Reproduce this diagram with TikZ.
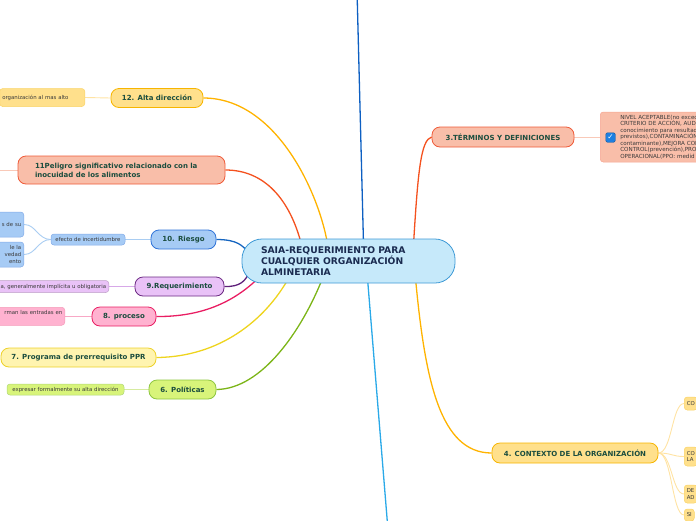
\documentclass[tikz,border=0pt]{standalone}
\usepackage{fontspec}
\setmainfont{DejaVu Sans}
\usetikzlibrary{backgrounds}
\definecolor{inkgreen}{HTML}{1B4D3E}
\definecolor{inknavy}{HTML}{1A2B50}
\definecolor{leafink}{HTML}{3A3A3A}
\definecolor{saiafill}{HTML}{C6E9FA}
\definecolor{saiadraw}{HTML}{3E9AD6}
\definecolor{orfill}{HTML}{FFE08C}
\definecolor{ordraw}{HTML}{F7B500}
\definecolor{orline}{HTML}{FFB300}
\definecolor{orlight}{HTML}{FFE3A3}
\definecolor{safill}{HTML}{F9BEA9}
\definecolor{sadraw}{HTML}{EF5B39}
\definecolor{saline}{HTML}{F4511E}
\definecolor{salight}{HTML}{F9C9B8}
\definecolor{blfill}{HTML}{A6CBF5}
\definecolor{bldraw}{HTML}{2F73D8}
\definecolor{blline}{HTML}{1565C0}
\definecolor{bllight}{HTML}{A9CDF2}
\definecolor{puffill}{HTML}{E9C2F7}
\definecolor{pudraw}{HTML}{6C2A83}
\definecolor{puline}{HTML}{5E1F7A}
\definecolor{pulight}{HTML}{D7A8E8}
\definecolor{pifill}{HTML}{FFB2D0}
\definecolor{pidraw}{HTML}{E91E63}
\definecolor{pilight}{HTML}{F8A8C6}
\definecolor{yefill}{HTML}{FFF4B0}
\definecolor{yedraw}{HTML}{EDD12A}
\definecolor{yeline}{HTML}{EED41E}
\definecolor{grfill}{HTML}{D8F47A}
\definecolor{grdraw}{HTML}{8DC63F}
\definecolor{grline}{HTML}{7CB518}
\definecolor{grlight}{HTML}{D6EBA0}
\definecolor{topline}{HTML}{0D5FC2}
\definecolor{botline}{HTML}{2AA9E8}
\definecolor{chkblue}{HTML}{1E7FE0}

\begin{document}
\begin{tikzpicture}[x=1pt, y=-1pt,
      topic/.style = {draw, rounded corners=8pt, line width=0.8pt,
                      font=\bfseries\fontsize{7}{8.8}\selectfont,
                      text=inkgreen, minimum height=19pt, inner xsep=5pt},
      leaf/.style  = {draw, rounded corners=3pt, line width=0.5pt,
                      font=\fontsize{5.4}{6.8}\selectfont, text=leafink,
                      inner sep=2.5pt},
      branch/.style = {line width=1.3pt},
      twig/.style   = {line width=0.9pt}
    ]
    \useasboundingbox (0,0) rectangle (696,520);

    % central topic
    \node[draw=saiadraw, fill=saiafill, line width=0.8pt, rounded corners=20pt,
          minimum width=213pt, minimum height=44pt, text width=175pt, align=left,
          font=\bfseries\fontsize{9.2}{11}\selectfont, text=inknavy]
          (saia) at (348.5,261) {SAIA-REQUERIMIENTO PARA\\CUALQUIER ORGANIZACIÓN\\ALMINETARIA};

    % main topics
    \node[topic, fill=orfill, draw=ordraw, minimum width=92pt]   (alta)   at (157,98)    {12. Alta dirección};
    \node[topic, fill=safill, draw=sadraw, minimum width=207pt, minimum height=28pt,
          text width=173pt, align=left]                            (peligro) at (121.5,170) {11Peligro significativo relacionado con la\\inocuidad de los alimentos};
    \node[topic, fill=blfill, draw=bldraw, minimum width=65pt]   (riesgo) at (183.5,239.5) {10. Riesgo};
    \node[topic, fill=puffill, draw=pudraw, minimum width=89pt]  (req)    at (179.5,286.5) {9.Requerimiento};
    \node[topic, fill=pifill, draw=pidraw, minimum width=64pt]   (proc)   at (124,316.5)  {8. proceso};
    \node[topic, fill=yefill, draw=yedraw, minimum width=155pt]  (ppr)    at (78.5,357.5) {7. Programa de prerrequisito PPR};
    \node[topic, fill=grfill, draw=grdraw, minimum width=67pt]   (pol)    at (182.5,389.5) {6. Políticas};
    \node[topic, fill=safill, draw=sadraw, minimum width=142pt, minimum height=20pt] (term) at (503,137) {3.TÉRMINOS Y DEFINICIONES};
    \node[topic, fill=orfill, draw=ordraw, minimum width=166pt, minimum height=20pt] (ctx)  at (575,453) {4. CONTEXTO DE LA ORGANIZACIÓN};

    % leaves
    \node[leaf, fill=orfill, draw=ordraw!60, anchor=east, text width=80pt, align=left,
          minimum height=18pt]                                   (altaleaf) at (85,97.5) {organización al mas alto};
    \node[leaf, fill=blfill, draw=bldraw!60, minimum width=74pt, minimum height=11pt] (efecto) at (88,239.5) {efecto de incertidumbre};
    \node[leaf, fill=blfill, draw=bldraw!60, anchor=east, text width=30pt, align=right,
          minimum height=25pt]                                   (efectoa) at (24,224.5) {s de su};
    \node[leaf, fill=blfill, draw=bldraw!60, anchor=east, text width=30pt, align=right,
          minimum height=25pt]                                   (efectob) at (24,254.5) {le la\\vedad\\ento};
    \node[leaf, fill=puffill, draw=pudraw!45, anchor=east, text width=120pt, align=right,
          minimum height=12pt]                                   (reqleaf) at (109,286.5) {a, generalmente implícita u obligatoria};
    \node[leaf, fill=pifill, draw=pidraw!45, anchor=north east, text width=70pt, align=right,
          inner ysep=3pt, text height=4pt, text depth=8pt]       (procleaf) at (65,307) {rman las entradas en};
    \node[leaf, fill=grfill, draw=grdraw!70, minimum width=117pt, minimum height=11pt] (polleaf) at (65.5,389.5) {expresar formalmente su alta dirección};
    \node[leaf, fill=safill, draw=sadraw!55, anchor=west, text width=120pt, align=left,
          inner xsep=20pt, minimum height=50pt,
          font=\fontsize{5.6}{6.5}\selectfont]                   (termleaf) at (600,137)
          {NIVEL ACEPTABLE(no exced\\CRITERIO DE ACCIÓN, AUD\\conocimiento para resultad\\previstos),CONTAMINACIÓN\\contaminante),MEJORA CON\\CONTROL(prevención),PRO\\OPERACIONAL(PPO: medid};
    \node[fill=chkblue, draw=chkblue!70!black, rounded corners=1.5pt, minimum size=9.5pt,
          inner sep=0pt, text=white, font=\bfseries\fontsize{7.5}{8}\selectfont] (chk) at (610.5,137.5) {✓};
    \node[leaf, fill=orfill, draw=ordraw!60, anchor=west, minimum height=13pt] (ctxa) at (684,403.5) {CO};
    \node[leaf, fill=orfill, draw=ordraw!60, anchor=west, minimum height=19pt, align=left] (ctxb) at (684,456.5) {CO\\LA};
    \node[leaf, fill=orfill, draw=ordraw!60, anchor=west, minimum height=18pt, align=left] (ctxc) at (684,494) {DE\\AD};
    \node[leaf, fill=orfill, draw=ordraw!60, anchor=west, minimum height=12pt] (ctxd) at (684,515) {SI};

    \coordinate (peligroleaf) at (-10,170);
    \coordinate (topend) at (357,-10);
    \coordinate (botend) at (388,530);

    \begin{scope}[on background layer]
      % branches from the central topic
      \draw[branch, orline] (alta.east) .. controls (275,98) and (318,190) .. ([shift={(-21,5)}]saia.north);
      \draw[branch, saline] (peligro.east) .. controls (265,170) and (290,200) .. ([shift={(-47,6)}]saia.north);
      \draw[branch, blline] (riesgo.east) .. controls (238,239.5) and (242,246) .. ([shift={(6,-10)}]saia.west);
      \draw[branch, puline] (req.east) .. controls (240,287) and (246,281) .. ([shift={(8,10)}]saia.west);
      \draw[branch, pidraw] (proc.east) .. controls (210,317) and (240,296) .. ([shift={(18,16)}]saia.west);
      \draw[branch, yeline] (ppr.east) .. controls (220,357) and (265,320) .. ([shift={(-60,-5)}]saia.south);
      \draw[branch, grline] (pol.east) .. controls (262,389) and (302,330) .. ([shift={(-26,-5)}]saia.south);
      \draw[branch, saline] ([shift={(65,6)}]saia.north) .. controls (418,170) and (421,140) .. (term.west);
      \draw[branch, orline] ([shift={(67,-5)}]saia.south) .. controls (425,380) and (440,453) .. (ctx.west);
      \draw[branch, topline] ([shift={(15,5)}]saia.north) -- (topend);
      \draw[branch, botline] ([shift={(19,-5)}]saia.south) -- (botend);

      % twigs to the leaves
      \draw[twig, orlight] (altaleaf.east) -- (alta.west);
      \draw[twig, salight] (peligroleaf) -- (peligro.west);
      \draw[twig, bllight] (efecto.east) -- (riesgo.west);
      \draw[twig, bllight] (efecto.west) .. controls (38,239.5) and (36,224.5) .. (efectoa.east);
      \draw[twig, bllight] (efecto.west) .. controls (38,239.5) and (36,254.5) .. (efectob.east);
      \draw[twig, pulight] (reqleaf.east) -- (req.west);
      \draw[twig, pilight] ([yshift=-9.5pt]procleaf.north east) -- (proc.west);
      \draw[twig, grlight] (polleaf.east) -- (pol.west);
      \draw[twig, salight] (term.east) -- (termleaf.west);
      \draw[twig, orlight] (ctx.east) .. controls (672,453) and (672,403.5) .. (ctxa.west);
      \draw[twig, orlight] (ctx.east) .. controls (672,453) and (672,456.5) .. (ctxb.west);
      \draw[twig, orlight] (ctx.east) .. controls (672,453) and (672,494) .. (ctxc.west);
      \draw[twig, orlight] (ctx.east) .. controls (672,453) and (672,515) .. (ctxd.west);
    \end{scope}
  \end{tikzpicture}
\end{document}
